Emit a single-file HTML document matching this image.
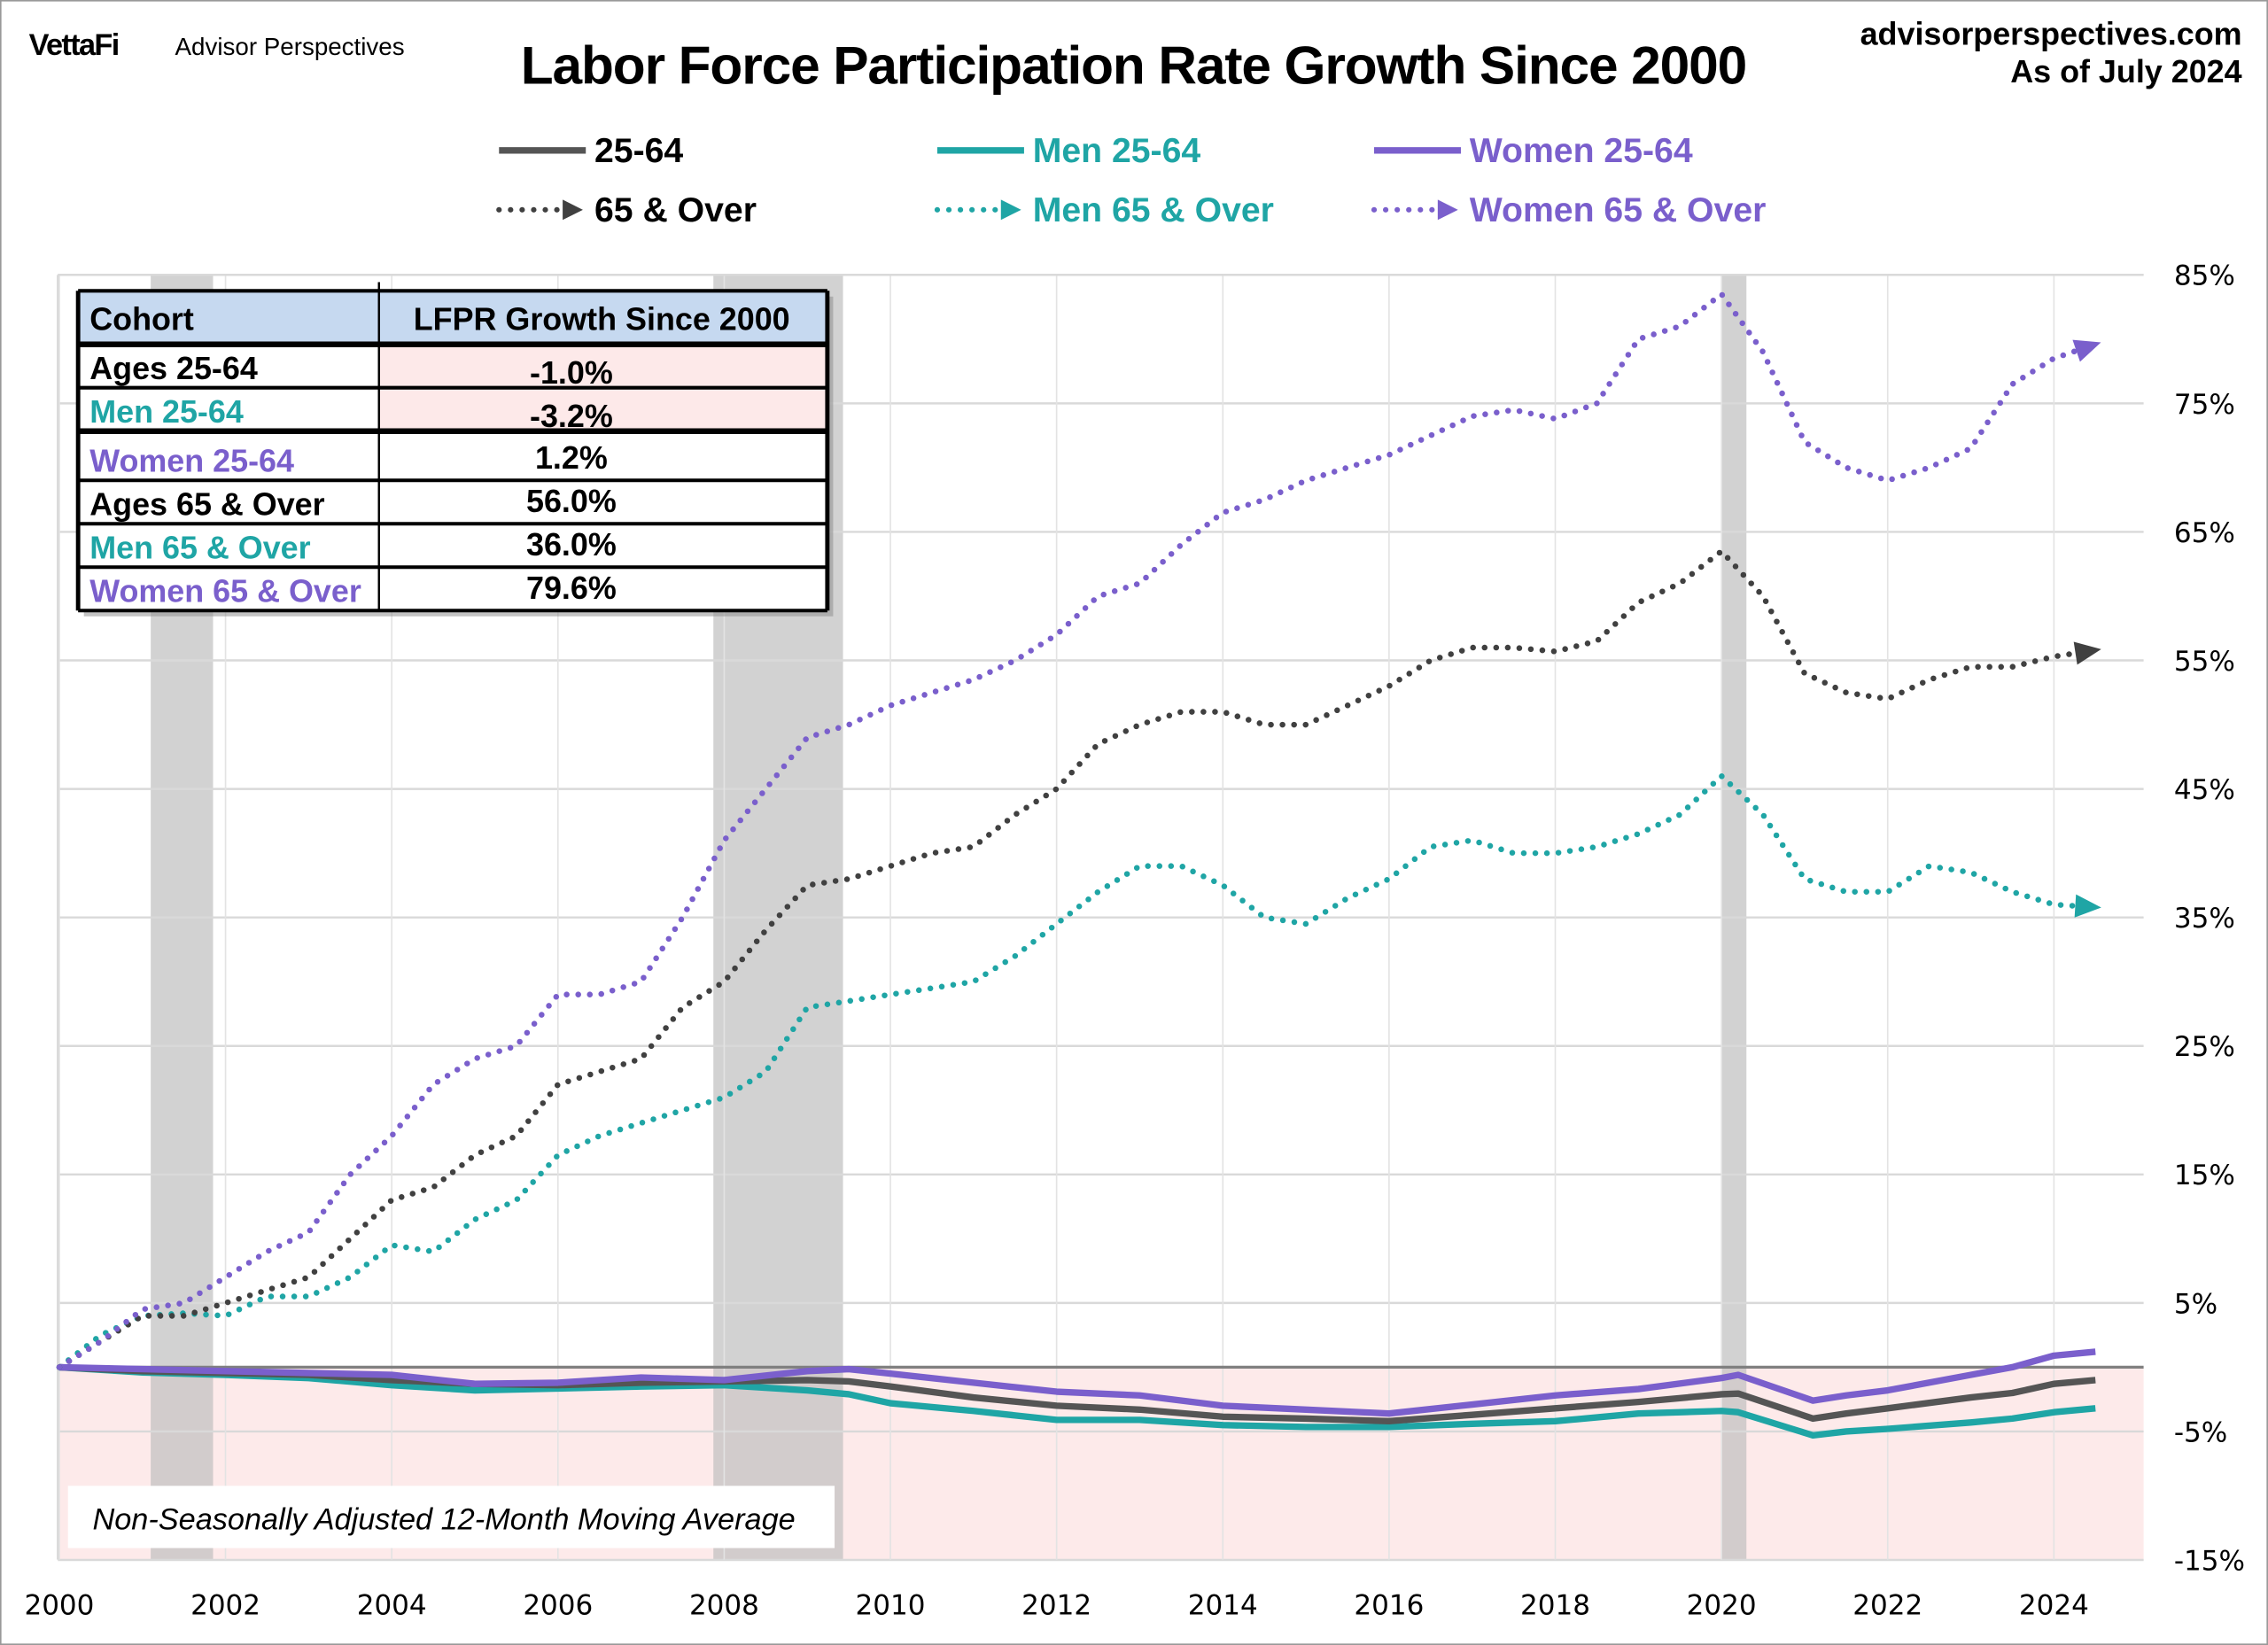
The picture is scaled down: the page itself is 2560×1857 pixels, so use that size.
<!DOCTYPE html>
<html><head><meta charset="utf-8"><style>
html,body{margin:0;padding:0;background:#fff}
svg{display:block}
.t{font-family:"Liberation Sans Narrow","Liberation Sans",sans-serif;font-weight:bold}
.ax{font-family:"DejaVu Sans",sans-serif;font-size:19px;fill:#000}
</style></head><body>
<svg id="chart" width="2560" height="1857" viewBox="0 0 1568 1137" preserveAspectRatio="none" xmlns="http://www.w3.org/2000/svg">
<rect x="0.5" y="0.5" width="1567" height="1136" fill="#fff" stroke="#999" stroke-width="1"/>
<g id="bg"></g>
<g id="grid"></g>
<g id="series"></g>
<g id="axes"></g>
<text x="20" y="38" class="t" style="font-family:'Liberation Sans',sans-serif;font-size:21px;letter-spacing:-1px">VettaFi</text>
<text x="121" y="38" style="font-family:'Liberation Sans',sans-serif;font-size:17px">Advisor Perspectives</text>
<text x="784" y="58" text-anchor="middle" class="t" style="font-size:37px" textLength="848">Labor Force Participation Rate Growth Since 2000</text>
<text x="1550" y="31" text-anchor="end" style="font-family:'Liberation Sans',sans-serif;font-weight:bold;font-size:22px">advisorperspectives.com</text>
<text x="1550" y="57" text-anchor="end" style="font-family:'Liberation Sans',sans-serif;font-weight:bold;font-size:22px">As of July 2024</text>
<g id="legend"></g>
<g id="table"></g>
<rect x="47" y="1027" width="530" height="43" fill="#fff"/>
<text x="64" y="1057" style="font-family:'Liberation Sans Narrow','Liberation Sans',sans-serif;font-style:italic;font-size:21px">Non-Seasonally Adjusted 12-Month Moving Average</text>
</svg>
<script>
const yearTicks=[2000,2002,2004,2006,2008,2010,2012,2014,2016,2018,2020,2022,2024];
const yTicks=[-15,-5,5,15,25,35,45,55,65,75,85];
const recessions=[[2001.1,2001.85],[2007.87,2009.43],[2020.0,2020.3]];
const w65Years=[2000,2000.5,2001,2001.5,2002,2002.5,2003,2003.5,2004,2004.5,2005,2005.5,2006,2006.5,2007,2007.5,2008,2008.5,2009,2009.5,2010,2010.5,2011,2011.5,2012,2012.5,2013,2013.5,2014,2014.5,2015,2015.5,2016,2016.5,2017,2017.5,2018,2018.5,2019,2019.5,2020,2020.5,2021,2021.5,2022,2022.5,2023,2023.5,2024,2024.5];
const w65Vals=[0,2,4.5,5,7,9,10.5,15,18,22,24,25,29,29,30,35,41,45,49,50,51.5,52.5,53.5,55,57,60,61,64,66.5,67.5,69,70,71,72.5,74,74.5,73.8,75,80,81,83.5,79,72,70,69,70,71.5,76.5,78.5,79.6];
const a65Vals=[0,2,4,4,5,6,7,10,13,14,16.5,18,22,23,24,28,30,34,37.5,38,39,40,40.5,43,45,48.5,50,51,51,50,50,51.5,53,55,56,56,55.7,56.5,59.5,61,63.5,60,54,52.5,52,53.5,54.5,54.5,55.3,55.8];
const m65Vals=[0,2.5,4,4.2,4,5.5,5.5,7,9.5,9,11.5,13,16.5,18,19,20,21,23,28,28.5,29,29.5,30,32,34.5,37,39,39,37.5,35,34.5,36.5,38,40.5,41,40,40,40.5,41.5,43,46,43,38,37,37,39,38.5,37,36,35.8];
const primeYears=[2000,2001,2002,2003,2004,2005,2006,2007,2008,2009,2009.5,2010,2011,2012,2013,2014,2015,2016,2017,2018,2019,2020,2020.2,2021.1,2021.5,2022,2023,2023.5,2024,2024.5];
const w2564Vals=[0,-0.15,-0.3,-0.45,-0.6,-1.3,-1.2,-0.8,-1.0,-0.3,-0.15,-0.5,-1.2,-1.9,-2.2,-3.0,-3.3,-3.6,-2.9,-2.2,-1.7,-0.85,-0.6,-2.6,-2.2,-1.8,-0.6,0,0.9,1.2];
const a2564Vals=[0,-0.3,-0.45,-0.6,-1.0,-1.3,-1.4,-1.2,-1.1,-1.0,-1.1,-1.5,-2.35,-3.0,-3.3,-3.85,-4.0,-4.2,-3.7,-3.2,-2.7,-2.1,-2.05,-4.0,-3.6,-3.2,-2.35,-2.0,-1.3,-1.0];
const m2564Vals=[0,-0.4,-0.6,-0.85,-1.4,-1.8,-1.65,-1.5,-1.4,-1.8,-2.1,-2.8,-3.4,-4.1,-4.1,-4.5,-4.65,-4.65,-4.4,-4.2,-3.6,-3.4,-3.5,-5.3,-5.0,-4.8,-4.3,-4.0,-3.5,-3.2];
const tableRows=["Ages 25-64","Men 25-64","Women 25-64","Ages 65 & Over","Men 65 & Over","Women 65 & Over"];
const tableVals=["-1.0%","-3.2%","1.2%","56.0%","36.0%","79.6%"];

const NS="http://www.w3.org/2000/svg";
const X0=40,X1=1482,Y0=190,Y1=1078;
function xs(yr){return 41+(yr-2000)*(1420-41)/24;}
function ys(v){return 945-v*(945-190)/85;}
function mk(tag,attrs,parent,txt){const e=document.createElementNS(NS,tag);for(const k in attrs)e.setAttribute(k,attrs[k]);if(txt!==undefined)e.textContent=txt;parent.appendChild(e);return e;}
const bg=document.getElementById('bg'),grid=document.getElementById('grid'),ser=document.getElementById('series'),axes=document.getElementById('axes');
let r=mk('rect',{x:X0,y:ys(0),width:X1-X0,height:Y1-ys(0),fill:'#fdeaea'},bg);


recessions.forEach(p=>{const e=mk('rect',{x:xs(p[0]),y:Y0,width:xs(p[1])-xs(p[0]),height:Y1-Y0,fill:'#bfbfbf',opacity:'0.7'},bg);

});
yTicks.forEach(v=>{const l=mk('line',{x1:X0,x2:X1,y1:ys(v),y2:ys(v),stroke:'#d9d9d9','stroke-width':1.5},grid);


const t=mk('text',{x:1503,y:ys(v)+7,class:'ax'},axes,v+'%');

});
yearTicks.forEach(yr=>{const l=mk('line',{x1:xs(yr),x2:xs(yr),y1:Y0,y2:Y1,stroke:'#e3e3e3','stroke-width':1},grid);


const t=mk('text',{x:xs(yr),y:1116,'text-anchor':'middle',class:'ax'},axes,String(yr));

});
let l0=mk('line',{x1:X0,x2:X1,y1:Y0,y2:Y0,stroke:'#d9d9d9','stroke-width':1.5},grid);


let l1=mk('line',{x1:X0,x2:X0,y1:Y0,y2:Y1,stroke:'#d9d9d9','stroke-width':1.5},grid);


let zl=mk('line',{x1:X0,x2:X1,y1:ys(0),y2:ys(0),stroke:'#808080','stroke-width':2},grid);



function pts(years,vals){return years.map((y,i)=>xs(y).toFixed(1)+','+ys(vals[i]).toFixed(1)).join(' ');}
function solid(years,vals,color,name){const p=mk('polyline',{points:pts(years,vals),fill:'none',stroke:color,'stroke-width':4.5,'stroke-linejoin':'round'},ser);

}
function dotted(years,vals,color,name){const n=years.length;const lx=xs(years[n-1]),ly=ys(vals[n-1]);const px=xs(years[n-2]),py=ys(vals[n-2]);
const ang=Math.atan2(ly-py,lx-px);const ex=lx-12*Math.cos(ang),ey=ly-12*Math.sin(ang);
const pp=years.slice(0,n-1).map((y,i)=>xs(y).toFixed(1)+','+ys(vals[i]).toFixed(1)).join(' ')+' '+ex.toFixed(1)+','+ey.toFixed(1);
const p=mk('polyline',{points:pp,fill:'none',stroke:color,'stroke-width':4,'stroke-linecap':'round','stroke-dasharray':'0 8'},ser);


const a=18,b=8;const tip=[lx+4*Math.cos(ang),ly+4*Math.sin(ang)];
const bx=tip[0]-a*Math.cos(ang),by=tip[1]-a*Math.sin(ang);
const h=mk('polygon',{points:`${tip[0]},${tip[1]} ${bx-b*Math.sin(ang)},${by+b*Math.cos(ang)} ${bx+b*Math.sin(ang)},${by-b*Math.cos(ang)}`,fill:color},ser);

}
const GR='#404040',TE='#1fa5a5',PU='#7a5fcc';
solid(primeYears,m2564Vals,TE,'men-25-64-line');
solid(primeYears,a2564Vals,'#555555','ages-25-64-line');
solid(primeYears,w2564Vals,PU,'women-25-64-line');
dotted(w65Years,m65Vals,TE,'men-65-over-line');
dotted(w65Years,a65Vals,GR,'ages-65-over-line');
dotted(w65Years,w65Vals,PU,'women-65-over-line');

const lg=document.getElementById('legend');
const legItems=[[345,104,'#555','25-64',false],[648,104,TE,'Men 25-64',false],[950,104,PU,'Women 25-64',false],[345,145,GR,'65 & Over',true],[648,145,TE,'Men 65 & Over',true],[950,145,PU,'Women 65 & Over',true]];
legItems.forEach(it=>{const [x,y,c,lab,dot]=it;const g=mk('g',{},lg);


if(dot){mk('line',{x1:x,x2:x+48,y1:y,y2:y,stroke:c,'stroke-width':3.8,'stroke-linecap':'round','stroke-dasharray':'0 8'},g);mk('polygon',{points:`${x+44},${y-7} ${x+58},${y} ${x+44},${y+7}`,fill:c},g);}
else mk('line',{x1:x,x2:x+60,y1:y,y2:y,stroke:c,'stroke-width':4.5},g);
mk('text',{x:x+66,y:y+8,class:'t','font-size':24,fill:c==='#555'||c===GR?'#000':c},g,lab);});

const tb=document.getElementById('table');
const TX0=54,TXM=262,TX1=572;const rowsY=[201,238,268,298,332,362,392,422];
mk('rect',{x:TX0+4,y:205,width:TX1-TX0,height:221,fill:'#888',opacity:'0.5'},tb);
mk('rect',{x:TX0,y:201,width:TX1-TX0,height:221,fill:'#fff'},tb);
mk('rect',{x:TX0,y:201,width:TX1-TX0,height:37,fill:'#c6d9f0'},tb);
mk('rect',{x:TXM,y:238,width:TX1-TXM,height:60,fill:'#fde9e9'},tb);
let h1=mk('text',{x:62,y:228,class:'t','font-size':22},tb,'Cohort');


let h2=mk('text',{x:416,y:228,'text-anchor':'middle',class:'t','font-size':22},tb,'LFPR Growth Since 2000');


const rowColors=['#000',TE,PU,'#000',TE,PU];
tableRows.forEach((lab,i)=>{const y0=rowsY[i+1],y1=rowsY[i+2];
const t=mk('text',{x:62,y:y1-6,class:'t','font-size':22,fill:rowColors[i]},tb,lab);


const v=mk('text',{x:395,y:i<2?y1-3:y1-8,'text-anchor':'middle',class:'t','font-size':22},tb,tableVals[i]);

});
rowsY.forEach((y,i)=>mk('line',{x1:TX0,x2:TX1,y1:y,y2:y,stroke:'#000','stroke-width':i==1||i==3?4:2.5},tb));
mk('line',{x1:TX0,x2:TX0,y1:201,y2:422,stroke:'#000','stroke-width':3},tb);
mk('line',{x1:TX1,x2:TX1,y1:201,y2:422,stroke:'#000','stroke-width':3},tb);
mk('line',{x1:TXM,x2:TXM,y1:195,y2:422,stroke:'#000','stroke-width':1.5},tb);
</script>
</body></html>
